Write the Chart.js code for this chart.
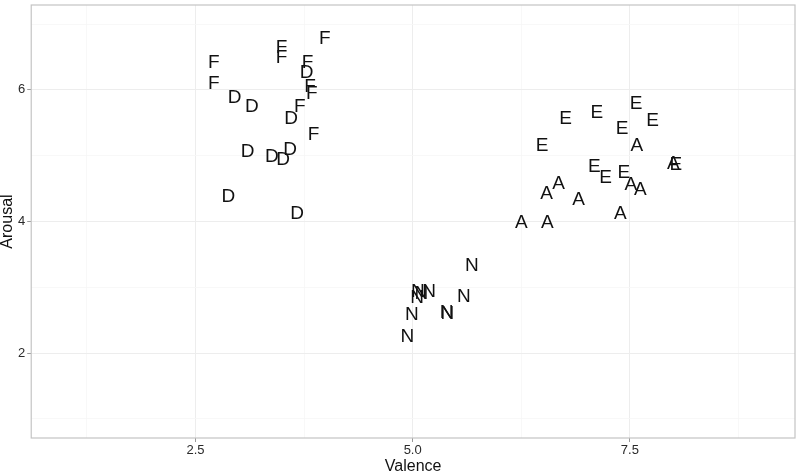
<!DOCTYPE html>
<html>
<head>
<meta charset="utf-8">
<script src="https://cdn.jsdelivr.net/npm/chart.js@4/dist/chart.umd.min.js"></script>
<style>
  html, body { margin: 0; padding: 0; background: #ffffff; }
  #wrap { width: 800px; height: 475px; }
</style>
</head>
<body>
<div id="wrap"><canvas id="c" width="800" height="475"></canvas></div>
<script>
// Category letters (text labels drawn at each point)
const categories = ['F', 'D', 'E', 'A', 'N'];

// Valence (x) and Arousal (y) values per category
const fValence = [3.99, 3.49, 3.49, 2.71, 3.79, 2.71, 3.82, 3.84, 3.70, 3.86];
const fArousal = [6.79, 6.66, 6.51, 6.43, 6.43, 6.11, 6.06, 5.95, 5.76, 5.33];

const dValence = [3.78, 2.95, 3.15, 3.60, 3.10, 3.38, 3.51, 3.59, 2.88, 3.67];
const dArousal = [6.28, 5.90, 5.76, 5.57, 5.08, 5.00, 4.96, 5.10, 4.39, 4.13];

const eValence = [7.57, 7.12, 6.76, 7.76, 7.41, 6.49, 7.09, 7.22, 7.43, 8.03];
const eArousal = [5.81, 5.67, 5.57, 5.55, 5.42, 5.17, 4.85, 4.68, 4.76, 4.88];

const aValence = [7.58, 8.00, 6.68, 6.54, 6.91, 7.51, 7.62, 7.39, 6.25, 6.55];
const aArousal = [5.16, 4.89, 4.59, 4.43, 4.34, 4.58, 4.49, 4.14, 4.00, 4.00];

const nValence = [5.68, 5.59, 5.19, 5.06, 5.05, 5.10, 5.39, 5.40, 4.99, 4.94];
const nArousal = [3.34, 2.87, 2.94, 2.94, 2.85, 2.91, 2.63, 2.62, 2.60, 2.27];

// Axis settings
const xMin = 0.61, xMax = 9.40, xStep = 1.25;
const yMin = 0.71, yMax = 7.29, yStep = 1;
const xMajorTicks = [2.5, 5.0, 7.5];
const yMajorTicks = [2, 4, 6];

function pts(xs, ys) { return xs.map((x, i) => ({ x: x, y: ys[i] })); }

const seriesX = [fValence, dValence, eValence, aValence, nValence];
const seriesY = [fArousal, dArousal, eArousal, aArousal, nArousal];

const datasets = categories.map((cat, i) => ({
  label: cat,
  data: pts(seriesX[i], seriesY[i]),
  pointRadius: 0,
  pointHoverRadius: 0,
  showLine: false
}));

function isMajor(v, list) { return list.some(m => Math.abs(m - v) < 1e-6); }

const letterPlugin = {
  id: 'letters',
  afterDatasetsDraw(chart) {
    const ctx = chart.ctx;
    ctx.save();
    ctx.font = '19px "Liberation Sans", Arial, sans-serif';
    ctx.fillStyle = '#111111';
    ctx.textAlign = 'center';
    ctx.textBaseline = 'middle';
    chart.data.datasets.forEach((ds, di) => {
      const meta = chart.getDatasetMeta(di);
      meta.data.forEach(el => {
        ctx.fillText(ds.label, el.x, el.y + 1);
      });
    });
    ctx.restore();
  }
};

const borderPlugin = {
  id: 'panelBorder',
  afterDraw(chart) {
    const a = chart.chartArea;
    const ctx = chart.ctx;
    ctx.save();
    ctx.strokeStyle = '#c4c4c4';
    ctx.lineWidth = 1.2;
    ctx.strokeRect(a.left, a.top, a.right - a.left, a.bottom - a.top);
    ctx.restore();
  }
};

const tickFont = { family: '"Liberation Sans", Arial, sans-serif', size: 13, lineHeight: 1.0 };
const titleFont = { family: '"Liberation Sans", Arial, sans-serif', size: 16, lineHeight: 1.0 };

new Chart(document.getElementById('c'), {
  type: 'scatter',
  data: { datasets: datasets },
  options: {
    responsive: false,
    animation: false,
    devicePixelRatio: 1,
    layout: { padding: { left: 0, right: 5, top: 5, bottom: 0 } },
    plugins: {
      legend: { display: false },
      tooltip: { enabled: false }
    },
    scales: {
      x: {
        type: 'linear',
        min: xMin,
        max: xMax,
        border: { display: false },
        grid: {
          color: ctx => isMajor(ctx.tick.value, xMajorTicks) ? '#ededed' : '#f6f6f6',
          lineWidth: ctx => isMajor(ctx.tick.value, xMajorTicks) ? 1 : 0.8,
          drawTicks: true,
          tickLength: 4,
          tickColor: ctx => isMajor(ctx.tick.value, xMajorTicks) ? '#9a9a9a' : 'rgba(0,0,0,0)'
        },
        ticks: {
          stepSize: xStep,
          includeBounds: false,
          autoSkip: false,
          maxRotation: 0,
          padding: 2,
          color: '#2a2a2a',
          font: tickFont,
          callback: v => isMajor(v, xMajorTicks) ? v.toFixed(1) : ''
        },
        title: {
          display: true,
          text: 'Valence',
          color: '#111111',
          font: titleFont,
          padding: { top: 0, bottom: 0 }
        }
      },
      y: {
        type: 'linear',
        min: yMin,
        max: yMax,
        border: { display: false },
        afterFit: scale => { scale.paddingTop = 0; },
        grid: {
          color: ctx => isMajor(ctx.tick.value, yMajorTicks) ? '#ededed' : '#f6f6f6',
          lineWidth: ctx => isMajor(ctx.tick.value, yMajorTicks) ? 1 : 0.8,
          drawTicks: true,
          tickLength: 4,
          tickColor: ctx => isMajor(ctx.tick.value, yMajorTicks) ? '#9a9a9a' : 'rgba(0,0,0,0)'
        },
        ticks: {
          stepSize: yStep,
          includeBounds: false,
          autoSkip: false,
          padding: 2,
          color: '#2a2a2a',
          font: tickFont,
          callback: v => isMajor(v, yMajorTicks) ? String(v) : ''
        },
        title: {
          display: true,
          text: 'Arousal',
          color: '#111111',
          font: titleFont,
          padding: { top: 0, bottom: 0 }
        }
      }
    }
  },
  plugins: [letterPlugin, borderPlugin]
});
</script>
</body>
</html>
